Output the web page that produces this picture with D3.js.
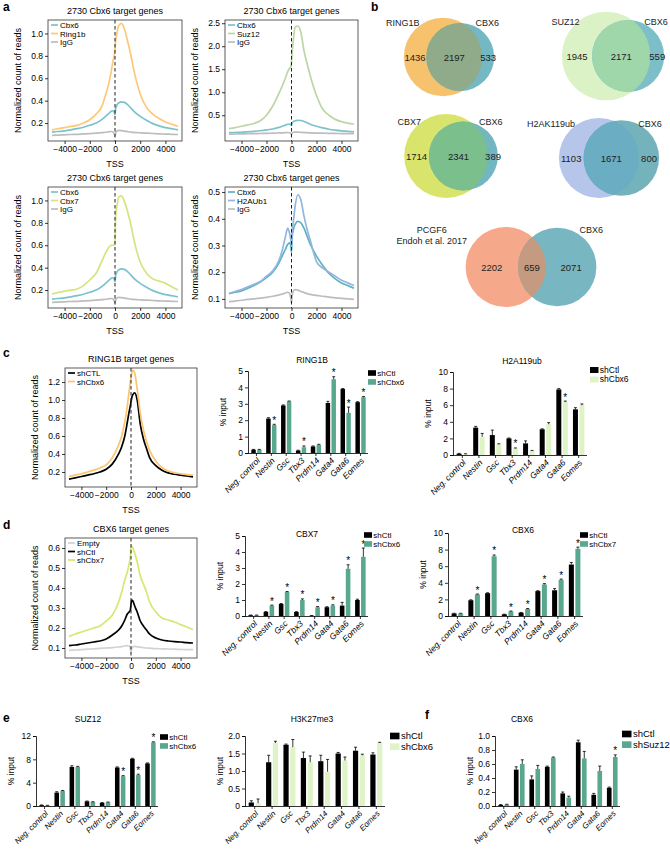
<!DOCTYPE html>
<html><head><meta charset="utf-8">
<script src="https://cdn.jsdelivr.net/npm/d3@7"></script>
<style>body{margin:0;background:#fff}</style>
</head><body>
<svg id="fig" width="670" height="851"></svg>
<script>
// ---------------- DATA ----------------
const tssX = [-5000,-4500,-4000,-3500,-3000,-2500,-2000,-1500,-1000,-750,-500,-300,-150,-50,0,50,150,300,500,750,1000,1250,1500,2000,2500,3000,3500,4000,4500,5000];
const xTickVals = [-4000,-2000,0,2000,4000];

const aCbx6  = [0.12,0.125,0.13,0.14,0.15,0.163,0.18,0.2,0.235,0.26,0.285,0.305,0.31,0.295,0.275,0.33,0.36,0.38,0.39,0.385,0.365,0.335,0.305,0.26,0.225,0.195,0.175,0.16,0.15,0.14];
const aIgG   = [0.09,0.092,0.095,0.098,0.1,0.103,0.106,0.11,0.115,0.118,0.122,0.125,0.12,0.1,0.085,0.11,0.13,0.135,0.133,0.128,0.124,0.12,0.117,0.113,0.11,0.107,0.104,0.102,0.1,0.098];
const aRing1b= [0.14,0.15,0.16,0.17,0.18,0.2,0.23,0.28,0.36,0.45,0.55,0.66,0.76,0.81,0.86,0.93,1.0,1.07,1.09,1.04,0.93,0.81,0.67,0.46,0.34,0.28,0.24,0.21,0.19,0.17];
const aSuz12 = [0.21,0.23,0.26,0.29,0.32,0.38,0.5,0.7,0.98,1.13,1.3,1.45,1.52,1.56,1.65,1.85,2.15,2.42,2.44,2.3,1.9,1.62,1.36,0.93,0.63,0.5,0.41,0.36,0.33,0.31];
const aCbx7  = [0.165,0.18,0.19,0.2,0.21,0.24,0.29,0.35,0.47,0.53,0.58,0.6,0.6,0.6,0.62,0.85,0.95,1.03,1.04,0.99,0.9,0.79,0.65,0.45,0.35,0.3,0.28,0.26,0.23,0.2];
const aH2AUb1= [0.12,0.128,0.135,0.145,0.155,0.165,0.185,0.205,0.245,0.28,0.33,0.365,0.345,0.32,0.3,0.35,0.39,0.45,0.49,0.47,0.41,0.36,0.32,0.24,0.215,0.2,0.185,0.17,0.16,0.15];

const cShCTL = [0.12,0.135,0.15,0.165,0.18,0.2,0.23,0.29,0.4,0.48,0.6,0.75,0.87,0.94,0.98,1.02,1.06,1.08,1.0,0.73,0.57,0.46,0.36,0.27,0.22,0.19,0.175,0.165,0.155,0.145];
const cShCbx6= [0.15,0.165,0.18,0.2,0.22,0.245,0.28,0.36,0.5,0.6,0.76,0.93,1.1,1.2,1.25,1.29,1.33,1.3,1.12,0.85,0.67,0.54,0.44,0.32,0.25,0.21,0.19,0.18,0.17,0.165];

const dEmpty  = [0.088,0.09,0.092,0.094,0.096,0.098,0.1,0.102,0.105,0.107,0.11,0.112,0.11,0.095,0.078,0.095,0.105,0.108,0.106,0.104,0.102,0.1,0.099,0.097,0.096,0.095,0.094,0.093,0.092,0.092];
const dShCtl  = [0.112,0.115,0.12,0.125,0.13,0.135,0.145,0.165,0.19,0.21,0.24,0.27,0.28,0.29,0.32,0.34,0.335,0.31,0.28,0.235,0.21,0.19,0.17,0.15,0.14,0.135,0.132,0.13,0.127,0.125];
const dShCbx7 = [0.158,0.17,0.18,0.19,0.2,0.21,0.235,0.265,0.33,0.38,0.44,0.48,0.52,0.56,0.6,0.61,0.6,0.575,0.53,0.46,0.42,0.38,0.33,0.28,0.25,0.24,0.23,0.217,0.205,0.192];

const genes = ["Neg. control","Nestin","Gsc","Tbx3","Prdm14","Gata4","Gata6","Eomes"];

const ring1bCtl    = [0.2,2.1,2.9,0.15,0.4,3.05,3.9,3.1];
const ring1bCtlErr = [0.02,0.05,0.03,0.02,0.03,0.1,0.03,0.03];
const ring1bKd     = [0.2,1.7,3.15,0.35,0.5,4.5,2.45,3.4];
const ring1bKdErr  = [0.02,0.05,0.02,0.08,0.03,0.15,0.35,0.04];
const ring1bSig    = [0,1,0,1,0,1,1,1];

const h2aCtl    = [0.15,3.3,2.4,2.0,1.4,3.1,7.9,5.5];
const h2aCtlErr = [0.05,0.15,0.6,0.05,0.3,0.05,0.1,0.2];
const h2aKd     = [0.1,2.2,1.3,0.8,0.5,3.7,6.4,6.0];
const h2aKdErr  = [0.05,0.4,0.05,0.05,0.05,0.2,0.1,0.15];
const h2aSig    = [0,0,0,1,0,0,1,0];

const cbx7Ctl    = [0.05,0.25,0.75,0.25,0.02,0.55,0.65,1.0];
const cbx7CtlErr = [0.01,0.03,0.03,0.02,0.01,0.03,0.2,0.05];
const cbx7Kd     = [0.05,0.65,1.5,1.0,0.55,0.65,2.95,3.7];
const cbx7KdErr  = [0.01,0.03,0.03,0.07,0.04,0.05,0.25,0.55];
const cbx7Sig    = [0,1,1,1,1,1,1,1];

const cbx6dCtl    = [0.3,1.9,2.75,0.2,0.4,3.0,3.1,6.2];
const cbx6dCtlErr = [0.03,0.05,0.05,0.02,0.03,0.05,0.2,0.25];
const cbx6dKd     = [0.3,2.6,7.2,0.55,0.85,3.8,4.35,8.1];
const cbx6dKdErr  = [0.03,0.05,0.15,0.05,0.05,0.1,0.1,0.2];
const cbx6dSig    = [0,1,1,1,1,1,1,1];

const suzCtl    = [0.15,2.3,6.7,0.8,0.55,6.6,8.1,7.3];
const suzCtlErr = [0.03,0.15,0.2,0.05,0.03,0.1,0.08,0.08];
const suzKd     = [0.1,2.6,6.7,0.7,0.65,5.1,5.3,10.9];
const suzKdErr  = [0.02,0.06,0.1,0.03,0.03,0.1,0.15,0.1];
const suzSig    = [0,0,0,0,0,1,1,1];

const k27Ctl    = [0.1,1.25,1.75,1.37,1.28,1.5,1.58,1.47];
const k27CtlErr = [0.05,0.2,0.02,0.17,0.17,0.03,0.1,0.05];
const k27Kd     = [0.08,1.8,1.68,1.25,0.98,1.3,1.45,1.8];
const k27KdErr  = [0.12,0.05,0.22,0.18,0.35,0.1,0.03,0.02];
const k27Sig    = [0,0,0,0,0,0,0,0];

const fCtl    = [0.015,0.52,0.38,0.56,0.18,0.91,0.16,0.26];
const fCtlErr = [0.005,0.04,0.05,0.01,0.02,0.03,0.02,0.01];
const fKd     = [0.02,0.6,0.53,0.69,0.12,0.68,0.5,0.7];
const fKdErr  = [0.005,0.06,0.05,0.01,0.02,0.1,0.07,0.03];
const fSig    = [0,0,0,0,0,0,0,1];

const vennSetA  = ["RING1B","SUZ12","CBX7","H2AK119ub","PCGF6"];
const vennSetB  = ["CBX6","CBX6","CBX6","CBX6","CBX6"];
const vennOnlyA = [1436,1945,1714,1103,2202];
const vennBoth  = [2197,2171,2341,1671,659];
const vennOnlyB = [533,559,389,800,2071];

// ---------------- DRAWING ----------------
const FONT = "'Liberation Sans', Arial, Helvetica, sans-serif";
const svg = d3.select("#fig").attr("font-family", FONT);

function styleAxis(sel, fs) {
  sel.selectAll("path.domain").attr("stroke","#000").attr("stroke-width",0.8);
  sel.selectAll(".tick line").attr("stroke","#000").attr("stroke-width",0.8);
  sel.selectAll(".tick text").attr("font-size",fs).attr("font-family",FONT).attr("fill","#000");
}
function label(txt, x, y) {
  svg.append("text").attr("x",x).attr("y",y).attr("font-size",12).attr("font-weight","bold").text(txt);
}

function profile(c) {
  const g = svg.append("g");
  const x = d3.scaleLinear().domain([-5000,5000]).range([c.x0+4, c.x1-4]);
  const y = d3.scaleLinear().domain(c.yDomain).range([c.y1, c.y0]);
  const line = d3.line().x((d,i)=>x(tssX[i])).y(d=>y(d)).curve(d3.curveMonotoneX);
  c.series.forEach(s => g.append("path").datum(s.values).attr("d",line)
      .attr("fill","none").attr("stroke",s.color).attr("stroke-width",1.7));
  g.append("line").attr("x1",x(0)).attr("x2",x(0)).attr("y1",c.y0).attr("y2",c.y1)
    .attr("stroke","#222").attr("stroke-width",1).attr("stroke-dasharray","3.5,2.5");
  g.append("rect").attr("x",c.x0).attr("y",c.y0).attr("width",c.x1-c.x0).attr("height",c.y1-c.y0)
    .attr("fill","none").attr("stroke","#333").attr("stroke-width",0.8);
  const ya = g.append("g").attr("transform",`translate(${c.x0},0)`)
    .call(d3.axisLeft(y).tickValues(c.yTicks).tickFormat(d3.format(".1f")).tickSize(3).tickPadding(2));
  ya.select(".domain").remove(); styleAxis(ya, 8.5);
  const xa = g.append("g").attr("transform",`translate(0,${c.y1})`)
    .call(d3.axisBottom(x).tickValues(xTickVals).tickFormat(d3.format("d")).tickSize(3).tickPadding(2));
  xa.select(".domain").remove(); styleAxis(xa, 8.5);
  const cx = (c.x0+c.x1)/2;
  g.append("text").attr("x",cx).attr("y",c.y0-6).attr("text-anchor","middle").attr("font-size",9).text(c.title);
  if (c.tss) g.append("text").attr("x",cx).attr("y",c.y1+26).attr("text-anchor","middle").attr("font-size",9).text("TSS");
  g.append("text").attr("transform",`translate(${c.x0-27},${(c.y0+c.y1)/2}) rotate(-90)`)
    .attr("text-anchor","middle").attr("font-size",9).text("Normalized count of reads");
  c.series.forEach((s,i) => {
    const ly = c.y0 + 5 + i*8.5;
    g.append("line").attr("x1",c.x0+3).attr("x2",c.x0+10).attr("y1",ly).attr("y2",ly)
      .attr("stroke",s.color).attr("stroke-width",1.7);
    g.append("text").attr("x",c.x0+12).attr("y",ly+3).attr("font-size",8).text(s.name);
  });
}

function barChart(c) {
  const g = svg.append("g");
  const x = d3.scaleBand().domain(genes).range([c.ax+1, c.xEnd]);
  const y = d3.scaleLinear().domain([0,c.max]).range([c.base, c.top]);
  const step = x.bandwidth(), bw = step*0.3, gap = step*0.09;
  const cen = gname => x(gname) + step/2;
  const groups = [
    {vals:c.ctl, errs:c.ctlErr, color:"#000", off:-gap/2-bw},
    {vals:c.kd, errs:c.kdErr, color:c.kdColor, off:gap/2}
  ];
  groups.forEach(gr => {
    genes.forEach((gn,i) => {
      const bx = cen(gn)+gr.off, v = gr.vals[i], e = gr.errs[i];
      g.append("rect").attr("x",bx).attr("y",y(v)).attr("width",bw).attr("height",y(0)-y(v)).attr("fill",gr.color);
      g.append("line").attr("x1",bx+bw/2).attr("x2",bx+bw/2).attr("y1",y(v)).attr("y2",y(v+e)).attr("stroke","#000").attr("stroke-width",0.8);
      g.append("line").attr("x1",bx+bw/2-1.5).attr("x2",bx+bw/2+1.5).attr("y1",y(v+e)).attr("y2",y(v+e)).attr("stroke","#000").attr("stroke-width",0.8);
    });
  });
  genes.forEach((gn,i) => {
    if (c.sig[i]) {
      const bx = cen(gn)+gap/2+bw/2;
      g.append("text").attr("x",bx).attr("y",y(c.kd[i]+c.kdErr[i])+0.5).attr("text-anchor","middle").attr("font-size",10).text("*").attr("dy","-0.1em");
    }
  });
  const ya = g.append("g").attr("transform",`translate(${c.ax},0)`)
    .call(d3.axisLeft(y).tickValues(c.ticks).tickFormat(c.fmt).tickSize(3).tickPadding(2));
  styleAxis(ya, 8.5);
  const xa = g.append("g").attr("transform",`translate(0,${c.base})`)
    .call(d3.axisBottom(x).tickSize(3).tickFormat(""));
  styleAxis(xa, 8);
  xa.select(".domain").attr("d",`M${c.ax},0.5H${c.xEnd}`);
  const xf = c.xFont || 8.5;
  genes.forEach(gn => {
    g.append("text").attr("transform",`translate(${cen(gn)+2},${c.base+6}) rotate(-45)`)
      .attr("text-anchor","end").attr("font-size",xf).attr("font-style","italic").attr("dy","0.35em").text(gn);
  });
  g.append("text").attr("x",c.titleX).attr("y",c.titleY).attr("text-anchor","middle").attr("font-size",8.5).text(c.title);
  g.append("text").attr("transform",`translate(${c.ax-22},${(c.top+c.base)/2}) rotate(-90)`)
    .attr("text-anchor","middle").attr("font-size",8.5).text("% input");
  const lf = c.legFont || 8;
  [["#000",c.names[0]],[c.kdColor,c.names[1]]].forEach((d,i) => {
    const ly = c.legY + i*lf*1.12;
    g.append("rect").attr("x",c.legX).attr("y",ly-lf*0.35).attr("width",lf*1.0).attr("height",lf*0.7).attr("fill",d[0]);
    g.append("text").attr("x",c.legX+lf*1.15).attr("y",ly+lf*0.33).attr("font-size",lf).text(d[1]);
  });
}

function lensArea(r1,r2,d){
  if (d>=r1+r2) return 0;
  if (d<=Math.abs(r1-r2)) return Math.PI*Math.min(r1,r2)**2;
  return r1*r1*Math.acos((d*d+r1*r1-r2*r2)/(2*d*r1)) + r2*r2*Math.acos((d*d+r2*r2-r1*r1)/(2*d*r2))
    - 0.5*Math.sqrt((-d+r1+r2)*(d+r1-r2)*(d-r1+r2)*(d+r1+r2));
}
function venn(i, cfg) {
  const g = svg.append("g");
  const rs = d3.scaleSqrt().domain([0,1]).range([0,cfg.k]);
  const nA = vennOnlyA[i]+vennBoth[i], nB = vennOnlyB[i]+vennBoth[i];
  const rA = rs(nA), rB = rs(nB);
  const target = Math.PI*cfg.k*cfg.k*vennBoth[i];
  let lo = Math.abs(rA-rB)+1e-6, hi = rA+rB;
  for (let it=0; it<60; it++){ const m=(lo+hi)/2; if (lensArea(rA,rB,m)>target) lo=m; else hi=m; }
  const d = (lo+hi)/2;
  const width = rA+d+rB, left = cfg.mid-width/2;
  const ax = left+rA, bx = ax+d, cy = cfg.cy;
  const id = "clipv"+i;
  g.append("clipPath").attr("id",id).append("circle").attr("cx",ax).attr("cy",cy).attr("r",rA);
  g.append("circle").attr("cx",ax).attr("cy",cy).attr("r",rA).attr("fill",cfg.cA);
  g.append("circle").attr("cx",bx).attr("cy",cy).attr("r",rB).attr("fill",cfg.cB);
  g.append("circle").attr("cx",bx).attr("cy",cy).attr("r",rB).attr("fill",cfg.cAB).attr("clip-path",`url(#${id})`);
  const lensL = bx-rB, lensR = ax+rA;
  const nums = [[(left+lensL)/2, vennOnlyA[i]], [(lensL+lensR)/2, vennBoth[i]], [(lensR+bx+rB)/2, vennOnlyB[i]]];
  nums.forEach(n => g.append("text").attr("x",n[0]).attr("y",cy+3.5).attr("text-anchor","middle").attr("font-size",9.5).attr("fill","#222").text(n[1]));
  const topY = cy - 31;
  if (cfg.aLines) {
    const t = g.append("text").attr("x",ax-cfg.aOff).attr("y",cfg.aY).attr("text-anchor","middle").attr("font-size",9).attr("fill","#222");
    t.append("tspan").attr("x",ax-cfg.aOff).text(vennSetA[i]);
    cfg.aLines.forEach(l => t.append("tspan").attr("x",ax-cfg.aOff).attr("dy",10.5).text(l));
    g.append("text").attr("x",bx+rB*0.57).attr("y",cfg.aY).attr("font-size",9).attr("fill","#222").text(vennSetB[i]);
  } else {
    g.append("text").attr("x",ax-rA*0.6).attr("y",topY).attr("text-anchor","end").attr("font-size",9).attr("fill","#222").text(vennSetA[i]);
    g.append("text").attr("x",bx+rB*0.45).attr("y",topY).attr("font-size",9).attr("fill","#222").text(vennSetB[i]);
  }
}

// ----- panel a -----
label("a",3,11);
const colCbx6 = "#7cc2cd", colIgG = "#bdbdbd";
profile({x0:48,x1:182,y0:20,y1:141,yDomain:[0.04,1.12],yTicks:[0.2,0.4,0.6,0.8,1.0],title:"2730 Cbx6 target genes",tss:true,
  series:[{name:"Cbx6",values:aCbx6,color:colCbx6},{name:"Ring1b",values:aRing1b,color:"#fdc877"},{name:"IgG",values:aIgG,color:colIgG}]});
profile({x0:225,x1:358,y0:20,y1:141,yDomain:[-0.06,2.57],yTicks:[0.5,1.0,1.5,2.0,2.5],title:"2730 Cbx6 target genes",tss:true,
  series:[{name:"Cbx6",values:aCbx6,color:colCbx6},{name:"Suz12",values:aSuz12,color:"#bcd6a6"},{name:"IgG",values:aIgG,color:colIgG}]});
profile({x0:48,x1:182,y0:187,y1:308,yDomain:[0.04,1.12],yTicks:[0.2,0.4,0.6,0.8,1.0],title:"2730 Cbx6 target genes",tss:true,
  series:[{name:"Cbx6",values:aCbx6,color:colCbx6},{name:"Cbx7",values:aCbx7,color:"#d5e47c"},{name:"IgG",values:aIgG,color:colIgG}]});
profile({x0:225,x1:358,y0:187,y1:308,yDomain:[0.066,0.519],yTicks:[0.1,0.2,0.3,0.4,0.5],title:"2730 Cbx6 target genes",tss:true,
  series:[{name:"Cbx6",values:aCbx6,color:"#5fb2c2"},{name:"H2AUb1",values:aH2AUb1,color:"#93b6df"},{name:"IgG",values:aIgG,color:colIgG}]});

// ----- panel b -----
label("b",371,11);
venn(0,{mid:449,cy:57,k:0.65,cA:"#f7c26e",cB:"#74b8c3",cAB:"#90ab8a"});
venn(1,{mid:613,cy:56,k:0.69,cA:"#dbf2c6",cB:"#7dbfc8",cAB:"#9fd6aa"});
venn(2,{mid:451,cy:156,k:0.66,cA:"#d9e46c",cB:"#72b6c2",cAB:"#7bbf8c"});
venn(3,{mid:609,cy:158,k:0.76,cA:"#b5c6ea",cB:"#75b3bc",cAB:"#6badc3"});
venn(4,{mid:531,cy:267,k:0.75,cA:"#f6a98a",cB:"#78b6c2",cAB:"#c49a80",aLines:["Endoh et al. 2017"],aOff:74,aY:233});

// ----- panel c -----
label("c",3,357);
profile({x0:65,x1:197,y0:368,y1:487,yDomain:[0.033,1.356],yTicks:[0.2,0.4,0.6,0.8,1.0,1.2],title:"RING1B target genes",tss:true,
  series:[{name:"shCTL",values:cShCTL,color:"#000"},{name:"shCbx6",values:cShCbx6,color:"#fcc46e"}]});
const green = "#5aa78f", light = "#e0f3c6";
barChart({ax:248,xEnd:368,top:371,base:453,max:5,ticks:[0,1,2,3,4,5],fmt:d3.format("d"),title:"RING1B",titleX:312,titleY:363,
  legX:368,legY:373,names:["shCtl","shCbx6"],kdColor:green,
  ctl:ring1bCtl,ctlErr:ring1bCtlErr,kd:ring1bKd,kdErr:ring1bKdErr,sig:ring1bSig});
barChart({ax:453,xEnd:587,top:372,base:455,max:10,ticks:[0,2,4,6,8,10],fmt:d3.format("d"),title:"H2A119ub",titleX:522,titleY:364,
  legX:590,legY:370,names:["shCtl","shCbx6"],kdColor:light,legFont:8.5,
  ctl:h2aCtl,ctlErr:h2aCtlErr,kd:h2aKd,kdErr:h2aKdErr,sig:h2aSig});

// ----- panel d -----
label("d",3,529);
profile({x0:65,x1:197,y0:538,y1:658,yDomain:[0.05,0.65],yTicks:[0.1,0.2,0.3,0.4,0.5,0.6],title:"CBX6 target genes",tss:true,
  series:[{name:"Empty",values:dEmpty,color:"#d2d2d2"},{name:"shCtl",values:dShCtl,color:"#000"},{name:"shCbx7",values:dShCbx7,color:"#d7e770"}]});
barChart({ax:245,xEnd:368,top:536,base:616,max:5,ticks:[0,1,2,3,4,5],fmt:d3.format("d"),title:"CBX7",titleX:307,titleY:537,
  legX:364,legY:535,names:["shCtl","shCbx6"],kdColor:green,
  ctl:cbx7Ctl,ctlErr:cbx7CtlErr,kd:cbx7Kd,kdErr:cbx7KdErr,sig:cbx7Sig});
barChart({ax:448,xEnd:583,top:533,base:616,max:10,ticks:[0,2,4,6,8,10],fmt:d3.format("d"),title:"CBX6",titleX:523,titleY:533,
  legX:580,legY:535,names:["shCtl","shCbx7"],kdColor:green,
  ctl:cbx6dCtl,ctlErr:cbx6dCtlErr,kd:cbx6dKd,kdErr:cbx6dKdErr,sig:cbx6dSig});

// ----- panel e -----
label("e",3,722);
barChart({ax:36,xEnd:158,top:736,base:806,max:12,ticks:[0,4,8,12],fmt:d3.format("d"),title:"SUZ12",titleX:88,titleY:722,
  legX:160,legY:737,names:["shCtl","shCbx6"],kdColor:green,xFont:8,
  ctl:suzCtl,ctlErr:suzCtlErr,kd:suzKd,kdErr:suzKdErr,sig:suzSig});
barChart({ax:245,xEnd:385,top:736,base:806,max:2,ticks:[0,0.5,1,1.5,2],fmt:d=>d===0?"0":d3.format(".1f")(d),title:"H3K27me3",titleX:312,titleY:722,
  legX:390,legY:736,names:["shCtl","shCbx6"],kdColor:light,legFont:9.5,xFont:8,
  ctl:k27Ctl,ctlErr:k27CtlErr,kd:k27Kd,kdErr:k27KdErr,sig:k27Sig});

// ----- panel f -----
label("f",425,719);
barChart({ax:495,xEnd:620,top:736,base:806,max:1,ticks:[0,0.2,0.4,0.6,0.8,1.0],fmt:d3.format(".1f"),title:"CBX6",titleX:522,titleY:722,
  legX:622,legY:734,names:["shCtl","shSuz12"],kdColor:green,legFont:9.5,xFont:8,
  ctl:fCtl,ctlErr:fCtlErr,kd:fKd,kdErr:fKdErr,sig:fSig});
</script>
</body></html>
